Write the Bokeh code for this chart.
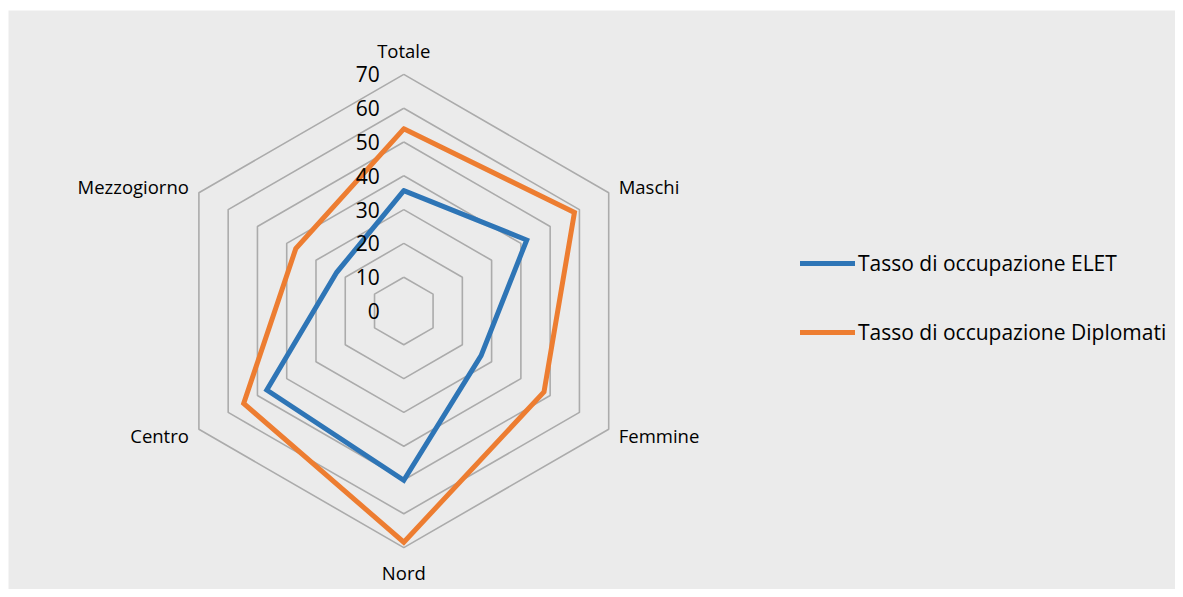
import numpy as np
from bokeh.plotting import figure
from bokeh.models import Range1d, Legend, LegendItem, ColumnDataSource
from bokeh.core.properties import value
from bokeh.embed import file_html
from bokeh.resources import INLINE

# ---------------- data ----------------
categories = ["Totale", "Maschi", "Femmine", "Nord", "Centro", "Mezzogiorno"]
elet = [35.6, 42.0, 26.4, 50.1, 46.8, 22.9]
diplomati = [53.9, 58.3, 47.9, 68.4, 54.7, 36.9]
ticks = [0, 10, 20, 30, 40, 50, 60, 70]
series_names = ["Tasso di occupazione ELET", "Tasso di occupazione Diplomati"]
series_colors = ["#2E75B6", "#ED7D31"]

# ---------------- layout ----------------
W, H = 1175, 589
BL, BT = 8, 10                 # white border left / top
FW, FH = W - BL, H - BT        # frame size
CX, CY = 395.3, 300.5          # radar centre, px from frame top-left
PX = 3.38                      # px per unit
FONT = "Open Sans"

p = figure(width=W, height=H, output_backend="svg", toolbar_location=None,
           x_range=Range1d(-CX / PX, (FW - CX) / PX),
           y_range=Range1d(-(FH - CY) / PX, CY / PX),
           x_axis_type=None, y_axis_type=None,
           min_border_left=BL, min_border_top=BT, min_border_right=0, min_border_bottom=0)
p.grid.visible = False
p.background_fill_color = "#EBEBEB"
p.border_fill_color = "#FFFFFF"
p.outline_line_color = None

n = len(categories)
ang = np.deg2rad(90 - 360.0 / n * np.arange(n))
ux, uy = np.cos(ang), np.sin(ang)

# rings
rmax = max(ticks)
ring_xs, ring_ys = [], []
for t in ticks[1:]:
    ring_xs.append([float(v) for v in np.append(t * ux, t * ux[0])])
    ring_ys.append([float(v) for v in np.append(t * uy, t * uy[0])])
p.multi_line(ring_xs, ring_ys, line_color="#ABABAB", line_width=1.6)

# series
renderers = []
for vals, col in zip([elet, diplomati], series_colors):
    v = np.array(vals)
    xs = [float(a) for a in np.append(v * ux, v[0] * ux[0])]
    ys = [float(a) for a in np.append(v * uy, v[0] * uy[0])]
    r = p.line(xs, ys, line_color=col, line_width=5, line_join="miter", line_cap="round")
    renderers.append(r)

# tick labels
p.text(x=[0] * len(ticks), y=ticks, text=[str(t) for t in ticks],
       text_align="right", text_baseline="middle", x_offset=-24,
       text_font=value(FONT), text_font_size="21px", text_color="#000000")

# category labels
aligns = ["center", "left", "left", "center", "right", "right"]
xoffs = [0, 10, 10, 0, -10, -10]
yoffs = [-24, -6, 6, 25, 6, -6]
src = ColumnDataSource(dict(x=[float(a) for a in rmax * ux], y=[float(a) for a in rmax * uy],
                            text=categories, align=aligns, xo=xoffs, yo=yoffs))
p.text(x="x", y="y", text="text", source=src, text_align="align", text_baseline="middle",
       x_offset="xo", y_offset="yo", text_font=value(FONT), text_font_size="18.5px",
       text_color="#000000")

# legend
legend = Legend(items=[LegendItem(label=nm, renderers=[r]) for nm, r in zip(series_names, renderers)],
                location=(792, 243), orientation="vertical",
                glyph_width=55, glyph_height=20, label_height=20, label_standoff=3,
                spacing=41, padding=0, margin=0,
                background_fill_alpha=0, border_line_alpha=0,
                label_text_font=FONT, label_text_font_size="21px", label_text_color="#000000")
p.add_layout(legend)

open("out.html", "w").write(file_html(p, INLINE))
